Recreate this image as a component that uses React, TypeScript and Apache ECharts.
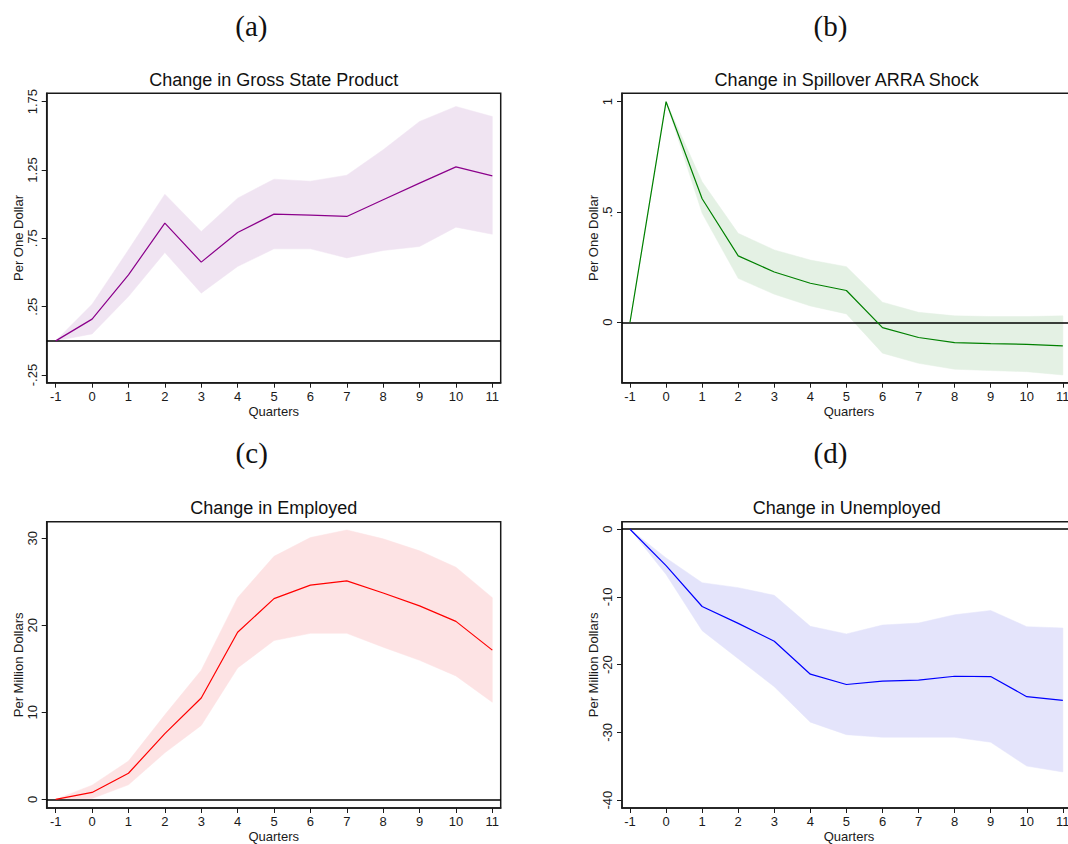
import React, { useEffect, useRef } from "react";
import * as echarts from "echarts";

const quarters = [-1, 0, 1, 2, 3, 4, 5, 6, 7, 8, 9, 10, 11];

// (a) Change in Gross State Product
const gspLine = [0, 0.159, 0.483, 0.861, 0.576, 0.793, 0.927, 0.92, 0.91, 1.032, 1.154, 1.273, 1.207];
const gspUpper = [0, 0.268, 0.666, 1.073, 0.8, 1.044, 1.183, 1.168, 1.212, 1.398, 1.605, 1.715, 1.641];
const gspLower = [0, 0.051, 0.324, 0.646, 0.349, 0.544, 0.673, 0.673, 0.607, 0.661, 0.69, 0.832, 0.78];

// (b) Change in Spillover ARRA Shock
const spillLine = [0, 1.0, 0.56, 0.301, 0.228, 0.177, 0.144, -0.024, -0.069, -0.092, -0.097, -0.1, -0.107];
const spillUpper = [0, 1.0, 0.637, 0.403, 0.328, 0.282, 0.252, 0.091, 0.045, 0.029, 0.026, 0.026, 0.029];
const spillLower = [0, 1.0, 0.494, 0.199, 0.127, 0.074, 0.038, -0.14, -0.186, -0.213, -0.219, -0.224, -0.239];

// (c) Change in Employed
const empLine = [0, 0.8, 3.0, 7.55, 11.64, 19.19, 23.06, 24.61, 25.1, 23.7, 22.22, 20.44, 17.14];
const empUpper = [0, 1.63, 4.4, 9.71, 14.83, 23.17, 27.91, 30.07, 30.94, 29.92, 28.55, 26.66, 23.17];
const empLower = [0, 0.1, 1.67, 5.35, 8.49, 15.09, 18.24, 19.07, 19.07, 17.48, 15.97, 14.18, 11.15];

// (d) Change in Unemployed
const unempLine = [0, -5.37, -11.41, -13.9, -16.54, -21.41, -22.93, -22.44, -22.29, -21.71, -21.76, -24.73, -25.27];
const unempUpper = [0, -4.24, -7.9, -8.63, -9.76, -14.34, -15.46, -14.15, -13.85, -12.63, -12.0, -14.39, -14.59];
const unempLower = [0, -6.68, -14.98, -19.12, -23.27, -28.49, -30.34, -30.73, -30.73, -30.73, -31.46, -34.98, -35.85];

const ticksA = [-0.25, 0.25, 0.75, 1.25, 1.75];
const ticksB = [0, 0.5, 1];
const ticksC = [0, 10, 20, 30];
const ticksD = [-40, -30, -20, -10, 0];

const panelTitles = [
  "Change in Gross State Product",
  "Change in Spillover ARRA Shock",
  "Change in Employed",
  "Change in Unemployed",
];
const panelTags = ["(a)", "(b)", "(c)", "(d)"];
const yNames = ["Per One Dollar", "Per One Dollar", "Per Million Dollars", "Per Million Dollars"];

const SANS = "'Liberation Sans', Arial, Helvetica, sans-serif";
const INK = "#1a1a1a";

const fmt = (v: number) => {
  if (v === 0) return "0";
  return String(v).replace(/^(-?)0\./, "$1.");
};

export default function App() {
  const ref = useRef<HTMLDivElement>(null);
  useEffect(() => {
    if (!ref.current) return;
    const chart = echarts.init(ref.current, null, { renderer: "svg" });

    const panels = [
      { line: gspLine, up: gspUpper, lo: gspLower, ticks: ticksA, color: "#8b008b", band: "#f0e4f2", ymin: -0.306, ymax: 1.811, xmin: -1.247, xmax: 11.23 },
      { line: spillLine, up: spillUpper, lo: spillLower, ticks: ticksB, color: "#008000", band: "#e4f1e4", ymin: -0.274, ymax: 1.038, xmin: -1.222, xmax: 11.365 },
      { line: empLine, up: empUpper, lo: empLower, ticks: ticksC, color: "#ff0000", band: "#fde3e4", ymin: -0.99, ymax: 31.89, xmin: -1.247, xmax: 11.23 },
      { line: unempLine, up: unempUpper, lo: unempLower, ticks: ticksD, color: "#0000ff", band: "#e4e4fb", ymin: -41.17, ymax: 1.11, xmin: -1.222, xmax: 11.365 },
    ];
    const grids = [
      { left: 46.7, top: 93.3, width: 454, height: 289.4 },
      { left: 622, top: 93.3, width: 454, height: 289.4 },
      { left: 46.7, top: 521.7, width: 454, height: 289 },
      { left: 622, top: 521.7, width: 454, height: 289 },
    ];
    const titleCenters = [
      [273.7, 80.7],
      [846.7, 80.7],
      [273.7, 509],
      [846.7, 509],
    ];
    const tagCenters = [
      [251.4, 27.5],
      [830.4, 27.5],
      [251.7, 454.5],
      [830.4, 454.5],
    ];

    const xAxis: any[] = [];
    const yAxis: any[] = [];
    const series: any[] = [];
    const titles: any[] = [];

    panels.forEach((p, i) => {
      xAxis.push({
        type: "value",
        gridIndex: i,
        min: p.xmin,
        max: p.xmax,
        name: "Quarters",
        nameLocation: "middle",
        nameGap: 22,
        nameTextStyle: { fontFamily: SANS, fontSize: 13, color: INK },
        axisLine: { show: true, onZero: false, lineStyle: { color: INK, width: 1.5 } },
        axisTick: { show: true, length: 5, customValues: quarters, lineStyle: { color: INK, width: 1 } },
        axisLabel: { customValues: quarters, margin: 7, fontFamily: SANS, fontSize: 13, color: INK, formatter: (v: number) => String(v) },
        splitLine: { show: false },
      });
      yAxis.push({
        type: "value",
        gridIndex: i,
        min: p.ymin,
        max: p.ymax,
        name: yNames[i],
        nameLocation: "middle",
        nameRotate: 90,
        nameGap: 22,
        nameTextStyle: { fontFamily: SANS, fontSize: 13, color: INK },
        axisLine: { show: true, onZero: false, lineStyle: { color: INK, width: 1.5 } },
        axisTick: { show: true, length: 5, customValues: p.ticks, lineStyle: { color: INK, width: 1 } },
        axisLabel: { customValues: p.ticks, rotate: 90, margin: 8, fontFamily: SANS, fontSize: 13, color: INK, formatter: (v: number) => fmt(v) },
        splitLine: { show: false },
      });
      const bandData = quarters.map((q, k) => [q, p.lo[k], p.up[k]]);
      series.push({
        type: "custom",
        xAxisIndex: i,
        yAxisIndex: i,
        silent: true,
        z: 1,
        data: bandData,
        encode: { x: 0, y: [1, 2] },
        renderItem: (params: any, api: any) => {
          if (params.dataIndex !== 0) return null;
          const upper = bandData.map((d) => api.coord([d[0], d[2]]));
          const lower = bandData.map((d) => api.coord([d[0], d[1]])).reverse();
          return {
            type: "polygon",
            shape: { points: upper.concat(lower) },
            style: { fill: p.band, stroke: p.band, lineWidth: 0.5 },
          };
        },
      });
      series.push({
        type: "line",
        xAxisIndex: i,
        yAxisIndex: i,
        symbol: "none",
        silent: true,
        lineStyle: { color: p.color, width: 1.2 },
        data: quarters.map((q, k) => [q, p.line[k]]),
        markLine: {
          silent: true,
          symbol: "none",
          label: { show: false },
          lineStyle: { color: "#000", width: 1.5, type: "solid" },
          data: [{ yAxis: 0 }],
          z: 2,
        },
        z: 3,
      });
      titles.push({
        text: panelTitles[i],
        left: titleCenters[i][0],
        top: titleCenters[i][1] - 10,
        textAlign: "center",
        padding: 0,
        textStyle: { fontFamily: SANS, fontSize: 18, fontWeight: "normal", color: "#111" },
      });
      titles.push({
        text: panelTags[i],
        left: tagCenters[i][0],
        top: tagCenters[i][1] - 16,
        textAlign: "center",
        padding: 0,
        textStyle: { fontFamily: "'Liberation Serif', 'DejaVu Serif', serif", fontSize: 29, fontWeight: "normal", color: "#111" },
      });
    });

    chart.setOption({
      animation: false,
      backgroundColor: "#ffffff",
      title: titles,
      grid: grids.map((g) => ({ ...g, show: true, borderColor: INK, borderWidth: 1.5, backgroundColor: "transparent" })),
      xAxis,
      yAxis,
      series,
    });
    return () => chart.dispose();
  }, []);

  return (
    <div style={{ position: "absolute", left: 0, top: 0, width: 1068, height: 844, overflow: "hidden", background: "#fff" }}>
      <div ref={ref} style={{ width: 1110, height: 844 }} />
    </div>
  );
}
